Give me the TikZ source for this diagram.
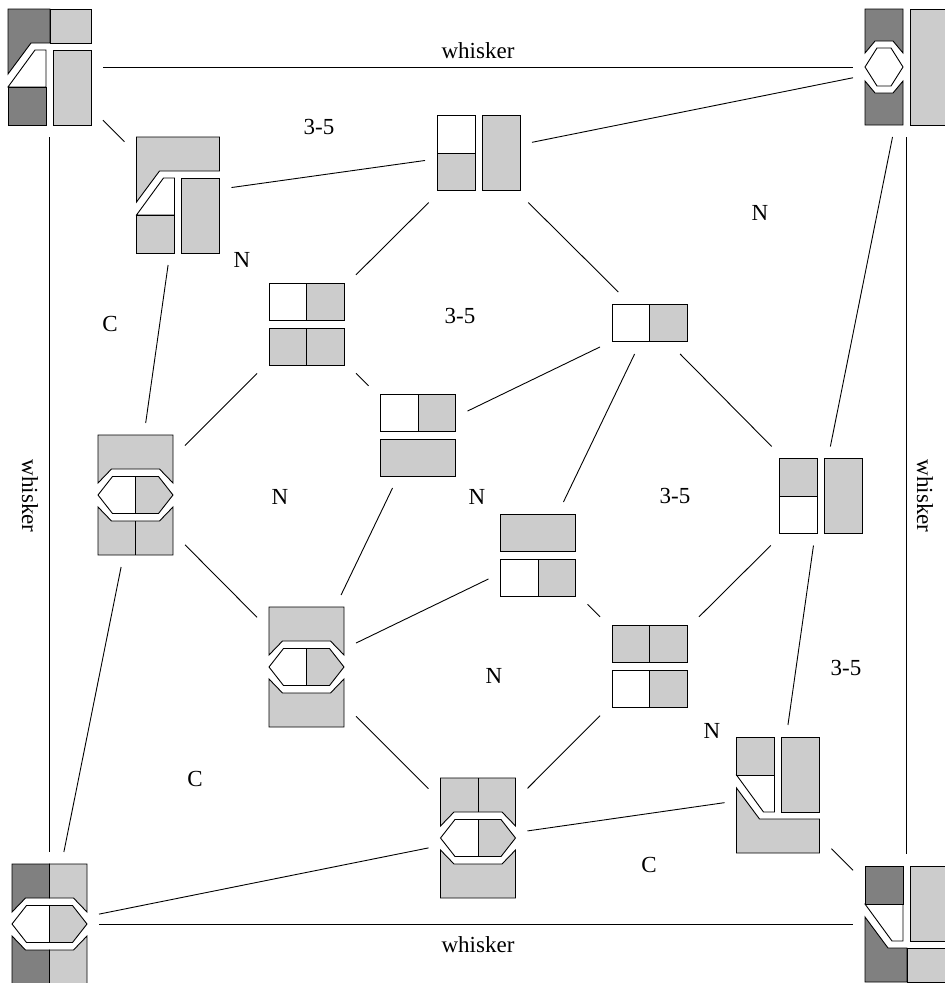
\documentclass[tikz,border=0pt]{standalone}
\usepackage{fontspec}
\setmainfont{Liberation Serif}
\definecolor{darktone}{gray}{0.5}
\definecolor{lighttone}{gray}{0.8}
\tikzset{
  pics/cornerdark/.style={code={
    \draw[fill=darktone] (-41.5,-58) -- (0.5,-58) -- (0.5,-24) -- (-18.5,-24) -- (-41.5,7) -- cycle;
    \draw[fill=lighttone] (0.5,-58) rectangle (41.5,-24);
    \draw[fill=white] (-41.5,20) -- (-14.5,-17) -- (-3.5,-17) -- (-3.5,20) -- cycle;
    \draw[fill=darktone] (-41.5,20) rectangle (-3.5,58);
    \draw[fill=lighttone] (3.5,-17) rectangle (41.5,58);
  }},
  pics/cornerlight/.style={code={
    \draw[fill=lighttone] (-41.5,-58) -- (41.5,-58) -- (41.5,-24) -- (-18.5,-24) -- (-41.5,7) -- cycle;
    \draw[fill=white] (-41.5,20) -- (-14.5,-17) -- (-3.5,-17) -- (-3.5,20) -- cycle;
    \draw[fill=lighttone] (-41.5,20) rectangle (-3.5,58);
    \draw[fill=lighttone] (3.5,-17) rectangle (41.5,58);
  }},
  pics/hexcore/.style={code={
    \fill[white] (-37.5,0) -- (-23,-18.5) -- (0,-18.5) -- (0,18.5) -- (-23,18.5) -- cycle;
    \fill[lighttone] (37.5,0) -- (23,-18.5) -- (0,-18.5) -- (0,18.5) -- (23,18.5) -- cycle;
    \draw (-37.5,0) -- (-23,-18.5) -- (23,-18.5) -- (37.5,0) -- (23,18.5) -- (-23,18.5) -- cycle;
    \draw (0,-18.5) -- (0,18.5);
  }},
  pics/hexcell/.style={code={
    \draw[fill=lighttone] (-37.5,-12) -- (-24,-26) -- (24,-26) -- (37.5,-12) -- (37.5,-60) -- (-37.5,-60) -- cycle;
    \draw[fill=lighttone] (-37.5,12) -- (-24,26) -- (24,26) -- (37.5,12) -- (37.5,60) -- (-37.5,60) -- cycle;
    \pic {hexcore};
  }},
  pics/hexsplit/.style={code={\draw (0,26) -- (0,60);}},
  pics/hexdark/.style={code={
    \draw[fill=darktone] (-37.5,-12) -- (-24,-26) -- (0,-26) -- (0,-60) -- (-37.5,-60) -- cycle;
    \draw[fill=lighttone] (37.5,-12) -- (24,-26) -- (0,-26) -- (0,-60) -- (37.5,-60) -- cycle;
    \draw[fill=darktone] (-37.5,12) -- (-24,26) -- (0,26) -- (0,60) -- (-37.5,60) -- cycle;
    \draw[fill=lighttone] (37.5,12) -- (24,26) -- (0,26) -- (0,60) -- (37.5,60) -- cycle;
    \pic {hexcore};
  }},
  pics/hexnarrow/.style={code={
    \draw[fill=darktone] (-41.5,-14) -- (-31.5,-26) -- (-13.5,-26) -- (-3.5,-14) -- (-3.5,-58) -- (-41.5,-58) -- cycle;
    \draw[fill=darktone] (-41.5,14) -- (-31.5,26) -- (-13.5,26) -- (-3.5,14) -- (-3.5,58) -- (-41.5,58) -- cycle;
    \draw[fill=white] (-41.5,0) -- (-29.5,-19) -- (-15.5,-19) -- (-3.5,0) -- (-15.5,19) -- (-29.5,19) -- cycle;
    \draw[fill=lighttone] (3.5,-58) rectangle (41.5,58);
  }},
  pics/columnopen/.style={code={
    \draw[fill=white] (-41.5,-37.5) rectangle (-3.5,0);
    \draw[fill=lighttone] (-41.5,0) rectangle (-3.5,37.5);
    \draw[fill=lighttone] (3.5,-37.5) rectangle (41.5,37.5);
  }},
  pics/rowopen/.style={code={
    \draw[fill=white] (-37.5,-18.5) rectangle (0,18.5);
    \draw[fill=lighttone] (0,-18.5) rectangle (37.5,18.5);
  }},
  pics/rowsplit/.style={code={
    \draw[fill=lighttone] (-37.5,-18.5) rectangle (0,18.5);
    \draw[fill=lighttone] (0,-18.5) rectangle (37.5,18.5);
  }},
  pics/rowplain/.style={code={
    \draw[fill=lighttone] (-37.5,-18.5) rectangle (37.5,18.5);
  }}
}
\begin{document}
\begin{tikzpicture}[x=1pt, y=-1pt, line width=0.9pt, font=\fontsize{23}{26}\selectfont,
  tallbox/.style={minimum width=107pt, minimum height=140pt, inner sep=0pt, outer sep=0pt},
  hexbox/.style={minimum width=99pt, minimum height=144pt, inner sep=0pt, outer sep=0pt},
  columnbox/.style={minimum width=107pt, minimum height=99pt, inner sep=0pt, outer sep=0pt},
  rowbox/.style={minimum width=99pt, minimum height=106pt, inner sep=0pt, outer sep=0pt},
  singlebox/.style={minimum width=99pt, minimum height=62pt, inner sep=0pt, outer sep=0pt},
  region/.style={inner sep=0pt}]
\useasboundingbox (0,0) rectangle (945,983);

\node[tallbox] (topleft) at (49.5,67) {};
\node[tallbox] (topright) at (906.5,67) {};
\node[tallbox] (botright) at (906.5,924) {};
\node[hexbox] (botleft) at (49.5,924) {};
\node[tallbox] (upleft) at (178,195) {};
\node[tallbox] (lowright) at (778,795) {};
\node[columnbox] (upmid) at (478.5,153) {};
\node[columnbox] (rightmid) at (820.5,496) {};
\node[rowbox] (pairnw) at (306.5,324) {};
\node[rowbox] (pairne) at (418,435) {};
\node[rowbox] (pairsw) at (538,555) {};
\node[rowbox] (pairse) at (649.5,666) {};
\node[singlebox] (single) at (649.5,323) {};
\node[hexbox] (hexwest) at (135.5,495) {};
\node[hexbox] (hexsouth) at (306.5,667) {};
\node[hexbox] (hexlow) at (478,838) {};

\pic at (topleft) {cornerdark};
\pic[yscale=-1] at (botright) {cornerdark};
\pic at (topright) {hexnarrow};
\pic at (botleft) {hexdark};
\pic at (upleft) {cornerlight};
\pic[yscale=-1] at (lowright) {cornerlight};
\pic at (upmid) {columnopen};
\pic[yscale=-1] at (rightmid) {columnopen};
\pic at ([yshift=22.5pt]pairnw.center) {rowopen};
\pic at ([yshift=-22.5pt]pairnw.center) {rowsplit};
\pic at ([yshift=22.5pt]pairne.center) {rowopen};
\pic at ([yshift=-22.5pt]pairne.center) {rowplain};
\pic at ([yshift=-22.5pt]pairsw.center) {rowopen};
\pic at ([yshift=22.5pt]pairsw.center) {rowplain};
\pic at ([yshift=-22.5pt]pairse.center) {rowopen};
\pic at ([yshift=22.5pt]pairse.center) {rowsplit};
\pic at (single) {rowopen};
\pic at (hexwest) {hexcell};
\pic at (hexwest) {hexsplit};
\pic at (hexsouth) {hexcell};
\pic at (hexlow) {hexcell};
\pic[yscale=-1] at (hexlow) {hexsplit};

\draw (topleft) -- (topright);
\draw (topleft) -- (botleft);
\draw (topright) -- (botright);
\draw (botleft) -- (botright);
\draw (topleft) -- (upleft);
\draw (lowright) -- (botright);
\draw (upleft) -- (upmid);
\draw (upmid) -- (topright);
\draw (upmid) -- (pairnw);
\draw (upmid) -- (single);
\draw (upleft) -- (hexwest);
\draw (pairnw) -- (hexwest);
\draw (pairnw) -- (pairne);
\draw (single) -- (pairne);
\draw (single) -- (pairsw);
\draw (single) -- (rightmid);
\draw (topright) -- (rightmid);
\draw (pairne) -- (hexsouth);
\draw (pairsw) -- (hexsouth);
\draw (hexwest) -- (hexsouth);
\draw (hexwest) -- (botleft);
\draw (pairsw) -- (pairse);
\draw (rightmid) -- (pairse);
\draw (rightmid) -- (lowright);
\draw (hexsouth) -- (hexlow);
\draw (pairse) -- (hexlow);
\draw (hexlow) -- (lowright);
\draw (hexlow) -- (botleft);

\node[region] (whiskertop) at (478,51) {whisker};
\node[region] (whiskerbot) at (478,945) {whisker};
\node[region, rotate=-90] (whiskerleft) at (30,496) {whisker};
\node[region, rotate=-90] (whiskerright) at (925,496) {whisker};
\node[region] (amid) at (319,127) {3-5};
\node[region] (bmid) at (460,316) {3-5};
\node[region] (cmid) at (675,496) {3-5};
\node[region] (dmid) at (846,668) {3-5};
\node[region] (na) at (242,260) {N};
\node[region] (nb) at (760,213) {N};
\node[region] (nc) at (280,497) {N};
\node[region] (nd) at (477,497) {N};
\node[region] (ne) at (494,676) {N};
\node[region] (nf) at (712,731) {N};
\node[region] (ca) at (110,324) {C};
\node[region] (cb) at (195,779) {C};
\node[region] (cc) at (649,865) {C};
\end{tikzpicture}
\end{document}
